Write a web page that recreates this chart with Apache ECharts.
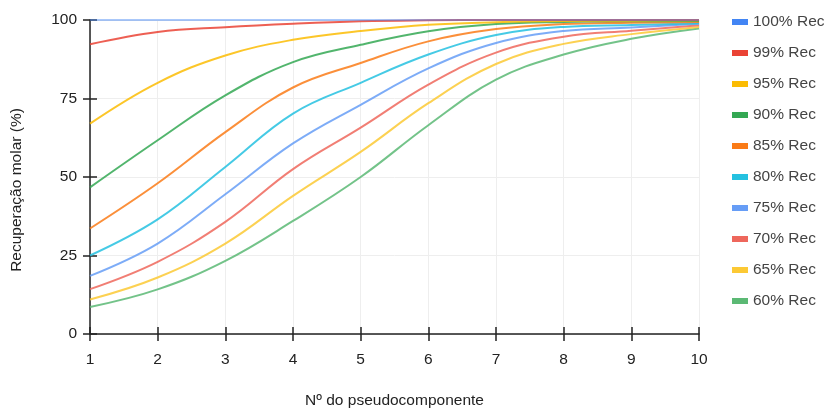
<!DOCTYPE html>
<html>
<head>
<meta charset="utf-8">
<script src="https://cdn.jsdelivr.net/npm/echarts@6/dist/echarts.min.js"></script>
<style>
html,body{margin:0;padding:0;background:#fff;}
#chart{width:827px;height:409px;}
</style>
</head>
<body>
<div id="chart"></div>
<script>
var xValues = [1, 2, 3, 4, 5, 6, 7, 8, 9, 10];
var seriesNames = ['100% Rec', '99% Rec', '95% Rec', '90% Rec', '85% Rec', '80% Rec', '75% Rec', '70% Rec', '65% Rec', '60% Rec'];
var rec100 = [100, 100, 100, 100, 100, 100, 100, 100, 100, 100];
var rec99 = [92.3, 96.2, 97.7, 98.8, 99.6, 99.9, 100, 100, 100, 100];
var rec95 = [67, 80, 88.7, 93.7, 96.5, 98.5, 99.3, 99.7, 99.8, 99.9];
var rec90 = [46.7, 61.7, 76, 86.6, 92.1, 96.4, 98.7, 99.4, 99.6, 99.7];
var rec85 = [33.6, 48, 64.3, 78.5, 86.3, 93.2, 97.1, 98.7, 99.1, 99.4];
var rec80 = [25, 36.5, 53.2, 70.2, 80, 89, 95.2, 97.8, 98.4, 99];
var rec75 = [18.5, 28.8, 44.5, 60.7, 73, 84.6, 92.7, 96.5, 97.6, 98.8];
var rec70 = [14.3, 23, 35.7, 52.5, 65.7, 79.4, 89.6, 94.7, 96.6, 98.3];
var rec65 = [11, 18, 28.8, 44, 58, 73.5, 86, 92.4, 95.5, 97.8];
var rec60 = [8.6, 14.2, 23.3, 36, 50, 66.5, 81, 89, 94, 97.3];
var yTicks = [0, 25, 50, 75, 100];

var allData = [rec100, rec99, rec95, rec90, rec85, rec80, rec75, rec70, rec65, rec60];
var colors = ['#4285F4', '#EA4335', '#FBBC04', '#34A853', '#FA7B17', '#24C1E0', '#669DF6', '#EE675C', '#FCC934', '#5BB974'];

var chart = echarts.init(document.getElementById('chart'));
var font = 'Arial, "Liberation Sans", sans-serif';
var fs = 15.5;

var series = allData.map(function (arr, i) {
  return {
    name: seriesNames[i],
    type: 'line',
    xAxisIndex: 0,
    yAxisIndex: 0,
    smooth: 0.4,
    showSymbol: false,
    symbol: 'none',
    color: colors[i],
    itemStyle: { color: colors[i] },
    lineStyle: { width: 2, color: colors[i], opacity: i === 0 ? 0.45 : 0.85 },
    data: xValues.map(function (x, j) { return [x, arr[j]]; }),
    z: 10 - i
  };
});

var axisLineStyle = { color: '#222', width: 1.5 };

var option = {
  animation: false,
  backgroundColor: '#ffffff',
  grid: { left: 90, right: 128, top: 20, bottom: 75, containLabel: false, outerBoundsMode: 'none' },
  legend: {
    orient: 'vertical',
    left: 727,
    top: 9,
    icon: 'rect',
    itemWidth: 16,
    itemHeight: 6,
    itemGap: 15,
    textStyle: { fontFamily: font, fontSize: fs, color: '#444' },
    data: seriesNames
  },
  xAxis: [{
    type: 'value',
    min: 1, max: 10, interval: 1,
    name: 'Nº do pseudocomponente',
    nameLocation: 'middle',
    nameGap: 59,
    nameTextStyle: { fontFamily: font, fontSize: fs, color: '#222' },
    axisLine: { show: true, lineStyle: axisLineStyle },
    axisTick: { show: true, length: 7, lineStyle: axisLineStyle },
    axisLabel: { margin: 18, fontFamily: font, fontSize: fs, color: '#222' },
    splitLine: { show: true, lineStyle: { color: '#eeeeee', width: 1 } }
  }, {
    type: 'value',
    min: 1, max: 10, interval: 1,
    position: 'bottom',
    axisLine: { show: false },
    axisTick: { show: true, inside: true, length: 7, lineStyle: axisLineStyle },
    axisLabel: { show: false },
    splitLine: { show: false }
  }],
  yAxis: [{
    type: 'value',
    min: 0, max: 100, interval: 25,
    name: 'Recuperação molar (%)',
    nameLocation: 'middle',
    nameGap: 65,
    nameTextStyle: { fontFamily: font, fontSize: fs, color: '#222', padding: [0, 26, 0, 0] },
    axisLine: { show: true, lineStyle: axisLineStyle },
    axisTick: { show: true, length: 7, lineStyle: axisLineStyle },
    axisLabel: {
      margin: 13, fontFamily: font, fontSize: fs, color: '#222',
      formatter: function (v) { return yTicks.indexOf(v) >= 0 ? String(v) : ''; }
    },
    splitLine: { show: true, lineStyle: { color: '#eeeeee', width: 1 } }
  }, {
    type: 'value',
    min: 0, max: 100, interval: 25,
    position: 'left',
    axisLine: { show: false },
    axisTick: { show: true, inside: true, length: 7, lineStyle: axisLineStyle },
    axisLabel: { show: false },
    splitLine: { show: false }
  }],
  series: series
};
chart.setOption(option);
</script>
</body>
</html>
